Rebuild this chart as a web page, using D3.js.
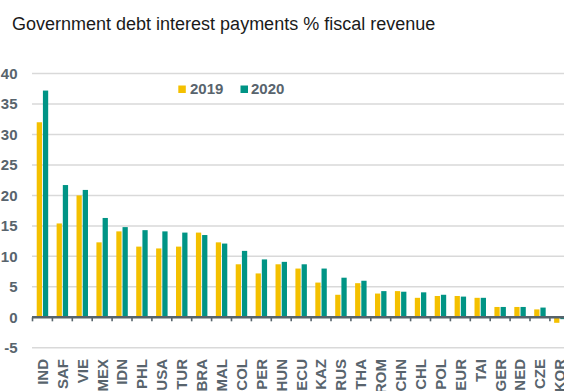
<!DOCTYPE html>
<html>
<head>
<meta charset="utf-8">
<script src="https://cdn.jsdelivr.net/npm/d3@7"></script>
<style>
  html, body { margin: 0; padding: 0; background: #fff; }
  svg { display: block; }
  text { font-family: "Liberation Sans", Arial, sans-serif; }
</style>
</head>
<body>
<svg id="chart" width="564" height="391"></svg>
<script>
// Interest payments on government debt as a share of fiscal revenue (%)
const countries = ["IND","SAF","VIE","MEX","IDN","PHL","USA","TUR","BRA","MAL","COL","PER","HUN","ECU","KAZ","RUS","THA","ROM","CHN","CHL","POL","EUR","TAI","GER","NED","CZE","KOR"];
const values2019 = [32.0,15.4,20.0,12.3,14.1,11.6,11.3,11.6,13.9,12.3,8.7,7.2,8.7,8.0,5.7,3.7,5.6,3.9,4.3,3.2,3.5,3.5,3.2,1.7,1.7,1.3,-0.9];
const values2020 = [37.2,21.7,20.9,16.3,14.8,14.3,14.1,13.9,13.5,12.1,10.9,9.5,9.1,8.7,8.0,6.5,6.0,4.3,4.2,4.1,3.7,3.4,3.2,1.7,1.7,1.6,-0.3];
const seriesNames = ["2019","2020"];
const yTicks = [-5,0,5,10,15,20,25,30,35,40];
const titleText = "Government debt interest payments % fiscal revenue";

const colors = { "2019": "#f4c000", "2020": "#009485" };
const inkGrey = "#58646d";

const svg = d3.select("#chart");

const x0 = d3.scaleBand()
  .domain(countries)
  .range([32.5, 32.5 + 19.9 * countries.length])
  .paddingInner(0).paddingOuter(0);

const x1 = d3.scaleBand()
  .domain(seriesNames)
  .range([0, x0.bandwidth()])
  .paddingInner(0.15)
  .paddingOuter(0.68);

const y = d3.scaleLinear().domain([-5, 40]).range([347.8, 73.5]);

// Title
svg.append("text")
  .attr("x", 12).attr("y", 30)
  .attr("font-size", 18)
  .attr("fill", "#1a1a1a")
  .text(titleText);

// Horizontal gridlines
svg.append("g").selectAll("line")
  .data(yTicks)
  .join("line")
  .attr("x1", 32).attr("x2", 564)
  .attr("y1", d => y(d)).attr("y2", d => y(d))
  .attr("stroke", "#d9d9d9")
  .attr("stroke-width", 1.5);

// Y tick labels
svg.append("g").selectAll("text")
  .data(yTicks)
  .join("text")
  .attr("x", 17.5)
  .attr("y", d => y(d))
  .attr("dy", "0.36em")
  .attr("text-anchor", "end")
  .attr("font-size", 15)
  .attr("font-weight", "bold")
  .attr("fill", inkGrey)
  .text(d => d);

// Bars
const rows = countries.map((c, i) => ({ c, vals: [values2019[i], values2020[i]] }));
const groups = svg.append("g").selectAll("g")
  .data(rows)
  .join("g")
  .attr("transform", d => `translate(${x0(d.c)},0)`);

groups.selectAll("rect")
  .data(d => seriesNames.map((s, k) => ({ s, v: d.vals[k] })))
  .join("rect")
  .attr("x", d => x1(d.s))
  .attr("width", x1.bandwidth())
  .attr("y", d => y(Math.max(0, d.v)))
  .attr("height", d => Math.abs(y(d.v) - y(0)))
  .attr("fill", d => colors[d.s]);

// Zero axis line with ticks at category boundaries
const axisG = svg.append("g");
axisG.append("line")
  .attr("x1", 32).attr("x2", 564)
  .attr("y1", y(0)).attr("y2", y(0))
  .attr("stroke", "#56636b")
  .attr("stroke-width", 2.5);
axisG.selectAll("line.tick")
  .data(countries)
  .join("line")
  .attr("class", "tick")
  .attr("x1", d => x0(d)).attr("x2", d => x0(d))
  .attr("y1", y(0)).attr("y2", y(0) + 4)
  .attr("stroke", "#56636b")
  .attr("stroke-width", 1.6);

// Category labels, rotated
svg.append("g").selectAll("text")
  .data(countries)
  .join("text")
  .attr("transform", d => `translate(${x0(d) + x0.bandwidth() / 2},359) rotate(-90)`)
  .attr("dy", "0.36em")
  .attr("text-anchor", "end")
  .attr("font-size", 15)
  .attr("font-weight", "bold")
  .attr("fill", inkGrey)
  .text(d => d);

// Legend
const legendItems = [
  { s: "2019", sx: 178.3, tx: 190 },
  { s: "2020", sx: 240.5, tx: 251 }
];
const lg = svg.append("g");
lg.selectAll("rect")
  .data(legendItems)
  .join("rect")
  .attr("x", d => d.sx).attr("y", 85.5)
  .attr("width", 7.5).attr("height", 7.5)
  .attr("fill", d => colors[d.s]);
lg.selectAll("text")
  .data(legendItems)
  .join("text")
  .attr("x", d => d.tx).attr("y", 93.5)
  .attr("font-size", 15)
  .attr("font-weight", "bold")
  .attr("fill", inkGrey)
  .text(d => d.s);
</script>
</body>
</html>
